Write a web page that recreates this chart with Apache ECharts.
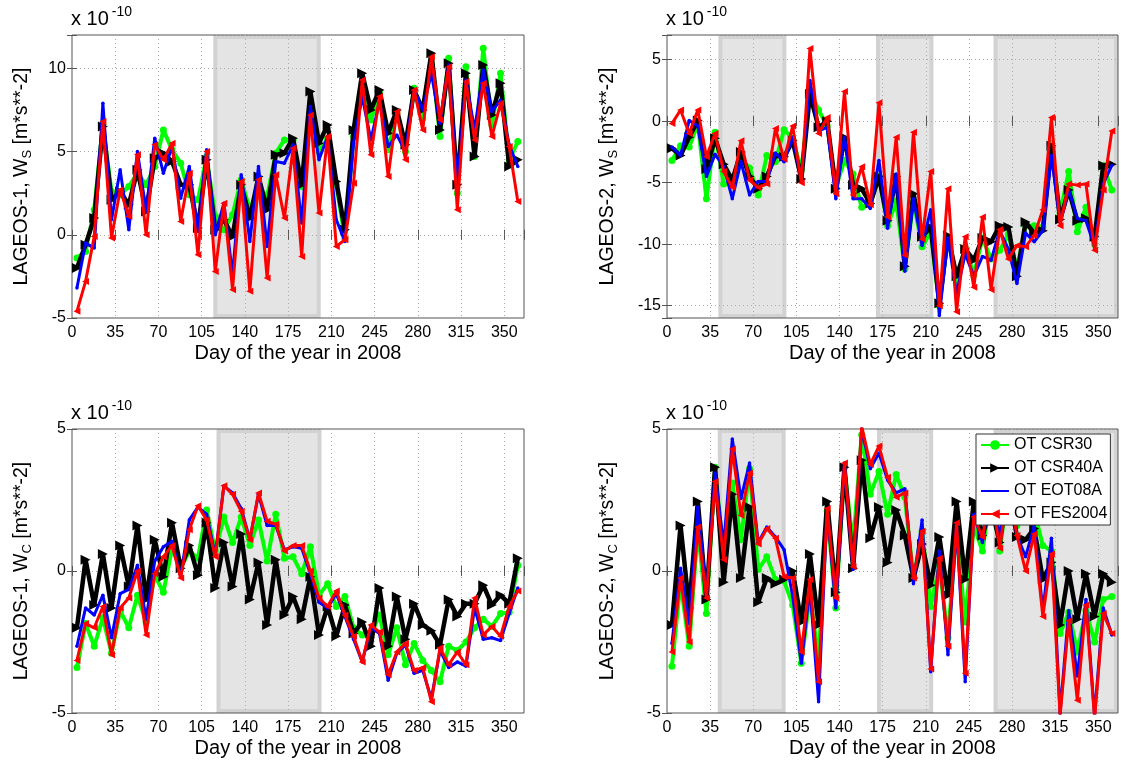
<!DOCTYPE html>
<html>
<head>
<meta charset="utf-8">
<title>LAGEOS out-of-plane accelerations 2008</title>
<script src="https://cdn.jsdelivr.net/npm/echarts@6/dist/echarts.min.js"></script>
<style>
  html, body { margin: 0; padding: 0; background: #fff; }
  #chart { width: 1121px; height: 765px; }
</style>
</head>
<body>
<div id="chart"></div>
<script>
// weekly arcs, day of year 2008
const days = [4, 11, 18, 25, 32, 39, 46, 53, 60, 67, 74, 81, 88, 95, 102, 109, 116, 123, 130, 137,
  144, 151, 158, 165, 172, 179, 186, 193, 200, 207, 214, 221, 228, 235, 242, 249, 256, 263, 270, 277,
  284, 291, 298, 305, 312, 319, 326, 333, 340, 347, 354, 361]

const seriesNames = ['OT CSR30', 'OT CSR40A', 'OT EOT08A', 'OT FES2004']

// LAGEOS-1, W_S  (x 1e-10 m/s^2)
const ws1Csr30 = [-1.4, -1.0, 1.5, 6.6, 2.6, 2.4, 2.9, 3.7, 3.0, 4.1, 6.3, 5.1, 4.3, 2.4, 2.1, 4.7, 1.1, 0.3, 1.2, 3.3,
  1.5, 2.9, 2.3, 4.9, 5.7, 5.7, 2.9, 7.5, 5.0, 5.8, 3.0, -0.2, 5.9, 8.5, 6.9, 8.5, 5.1, 7.3, 5.0, 8.8,
  7.0, 10.8, 5.9, 10.6, 2.5, 10.1, 4.7, 11.2, 6.6, 9.7, 4.5, 5.6]
const ws1Csr40a = [-2.0, -0.6, 1.0, 6.5, 2.1, 2.6, 1.8, 3.9, 1.4, 4.6, 4.9, 4.4, 3.0, 3.0, 0.4, 4.5, 0.3, 0.9, -0.1, 3.0,
  1.0, 3.5, 1.5, 4.8, 4.9, 5.8, 3.0, 8.6, 5.5, 6.6, 3.2, 0.3, 6.3, 9.7, 7.5, 8.7, 6.1, 7.5, 5.4, 8.7,
  7.5, 10.9, 6.3, 10.3, 3.0, 9.7, 4.7, 10.2, 7.2, 9.1, 4.1, 4.5]
const ws1Eot08a = [-3.2, -0.5, -0.8, 7.9, 0.9, 3.9, 0.3, 5.0, 1.4, 5.8, 3.7, 5.3, 2.2, 4.1, 0.2, 5.1, 0.0, 1.9, -2.4, 3.6,
  -0.4, 4.1, -0.7, 4.4, 4.3, 5.4, 0.7, 7.7, 4.5, 5.9, 0.9, -0.4, 5.5, 8.3, 5.7, 8.0, 5.3, 6.0, 5.0, 8.7,
  7.5, 9.7, 6.7, 10.2, 2.9, 9.3, 6.3, 9.9, 7.4, 8.1, 5.4, 4.1]
const ws1Fes2004 = [-4.6, -2.8, -0.1, 6.8, -0.2, 2.7, 1.1, 4.8, 0.0, 5.4, 4.5, 5.5, 0.8, 3.7, -1.2, 5.0, -2.2, 1.9, -3.3, 3.2,
  -3.4, 3.3, -2.6, 3.6, 1.0, 5.2, -1.3, 7.2, 1.3, 5.9, -0.7, -0.3, 3.1, 9.3, 4.8, 8.3, 3.5, 7.4, 4.5, 8.7,
  6.3, 10.7, 6.9, 10.1, 1.5, 9.2, 5.7, 9.1, 5.9, 7.9, 5.3, 2.0]

// LAGEOS-2, W_S
const ws2Csr30 = [-3.2, -2.0, -2.1, -0.2, -6.3, -0.9, -5.1, -5.1, -3.1, -3.8, -6.0, -2.8, -3.3, -0.7, -1.4, -4.0, 2.5, 0.9, -0.4, -5.4,
  -3.2, -4.3, -7.0, -6.7, -4.5, -8.5, -6.5, -12.0, -6.5, -10.2, -9.0, -15.0, -9.5, -13.0, -10.3, -12.5, -9.5, -11.2, -10.5, -9.2,
  -12.0, -8.5, -8.5, -8.6, -1.8, -7.5, -4.1, -9.0, -7.0, -10.0, -3.6, -5.6]
const ws2Csr40a = [-2.2, -2.8, -1.3, 0.05, -3.9, -1.4, -3.5, -4.8, -2.5, -4.5, -5.5, -4.5, -2.8, -2.9, -1.6, -4.7, 2.2, -0.5, 0.0, -5.5,
  -1.3, -5.2, -5.5, -6.7, -4.5, -8.1, -4.5, -11.8, -5.9, -9.4, -8.6, -14.8, -9.3, -12.6, -10.4, -11.3, -9.5, -9.8, -8.5, -8.6,
  -12.6, -8.2, -9.1, -8.9, -2.0, -8.0, -5.6, -8.1, -7.9, -9.4, -3.6, -3.5]
const ws2Eot08a = [-2.1, -2.8, 0.05, -0.4, -4.5, -2.7, -3.7, -6.3, -3.3, -6.0, -4.9, -4.9, -2.6, -3.3, -1.3, -4.7, 3.3, -0.8, -0.5, -6.3,
  -1.3, -6.3, -6.3, -7.1, -3.2, -8.7, -4.3, -12.2, -6.3, -10.1, -7.2, -15.8, -9.5, -14.0, -10.8, -12.6, -11.0, -11.3, -8.9, -10.4,
  -13.2, -9.1, -9.8, -8.9, -2.8, -8.2, -5.6, -7.9, -8.1, -10.2, -5.1, -3.6]
const ws2Fes2004 = [-0.2, 0.9, -1.0, 0.9, -2.9, -1.0, -4.1, -5.4, -1.6, -4.8, -5.4, -5.1, -0.6, -3.1, -0.4, -5.0, 5.9, -1.0, 0.3, -5.9,
  2.4, -6.0, -3.7, -6.8, 1.5, -7.8, -1.3, -10.9, -0.9, -9.6, -4.1, -15.0, -5.5, -15.5, -9.4, -13.5, -7.8, -13.7, -8.8, -11.2,
  -10.1, -10.2, -9.3, -7.2, 0.3, -8.5, -5.1, -5.2, -5.1, -10.5, -5.6, -0.8]

// LAGEOS-1, W_C
const wc1Csr30 = [-3.4, -1.85, -2.65, -1.65, -2.9, -1.4, -2.0, -0.85, -1.8, -0.15, -0.75, 0.8, 0.1, 0.7, 0.45, 2.15, 0.7, 1.9, 1.0, 1.9,
  0.9, 1.8, 0.35, 2.0, 0.45, 0.5, -0.1, 0.85, -0.85, -0.45, -1.25, -0.9, -2.0, -2.25, -2.25, -1.55, -2.95, -2.0, -3.3, -2.55,
  -3.15, -3.5, -3.9, -2.65, -2.8, -2.5, -2.0, -1.7, -1.95, -1.5, -1.45, 0.2]
const wc1Csr40a = [-2.0, 0.4, -1.2, 0.6, -1.3, 0.9, -0.55, 1.6, -1.0, 1.1, -0.2, 1.7, 0.1, 0.9, -0.15, 1.7, -0.6, 1.0, -0.55, 1.3,
  -1.0, 0.3, -1.9, 0.4, -1.55, -0.9, -1.7, -0.2, -2.25, -1.25, -2.3, -1.2, -2.2, -1.8, -2.65, -0.6, -2.65, -0.9, -2.4, -1.15,
  -1.9, -2.1, -2.6, -1.0, -1.6, -1.15, -1.15, -0.5, -1.2, -0.85, -1.15, 0.45]
const wc1Eot08a = [-2.65, -1.3, -1.55, -0.85, -2.35, -0.8, -0.65, 0.2, -1.7, 0.35, 0.85, 1.05, -0.2, 1.8, 2.25, 2.0, 0.55, 3.0, 2.75, 2.2,
  1.1, 2.7, 1.6, 1.6, 0.75, 0.85, 0.8, -0.1, -1.1, -1.3, -0.8, -1.6, -2.4, -3.2, -2.0, -2.2, -3.85, -2.9, -2.6, -3.6,
  -3.5, -4.5, -2.8, -3.4, -3.2, -3.35, -1.3, -2.4, -2.35, -2.45, -1.5, -0.6]
const wc1Fes2004 = [-3.15, -1.85, -2.0, -1.25, -2.95, -1.3, -0.95, 0.0, -2.25, -0.1, 0.5, 0.9, -0.25, 1.45, 2.3, 1.8, 0.5, 3.0, 2.7, 2.1,
  1.1, 2.75, 1.75, 1.65, 0.7, 0.9, 0.9, 0.0, -0.95, -1.25, -0.7, -1.55, -2.3, -3.2, -1.9, -2.15, -3.65, -2.85, -2.55, -3.5,
  -3.4, -4.6, -2.7, -3.3, -2.85, -3.3, -0.95, -2.25, -1.95, -2.3, -1.25, -0.7]

// LAGEOS-2, W_C
const wc2Csr30 = [-3.35, -0.4, -2.65, 1.5, -1.5, 3.65, 0.45, 3.1, 1.1, 3.6, 0.05, 0.5, -0.3, -0.35, -1.2, -3.25, -0.85, -3.1, 2.1, -1.3,
  3.65, 0.9, 4.8, 2.7, 3.5, 2.0, 3.4, 2.6, -0.25, 1.4, -1.25, 0.2, -2.35, 1.5, -1.8, 1.6, 0.7, 2.8, 0.7, 3.0,
  1.6, 2.2, 2.1, 0.9, 0.7, -2.2, -1.45, -2.85, -1.4, -2.5, -1.0, -0.9]
const wc2Csr40a = [-1.9, 1.6, -1.3, 2.45, -1.0, 3.65, -0.4, 2.7, -0.25, 2.25, -1.1, -0.25, -0.45, -0.3, 0.0, -1.8, 0.6, -1.9, 2.45, -0.75,
  3.65, 0.1, 3.9, 1.15, 2.25, 0.3, 2.15, 1.25, -0.25, 0.95, -0.5, 1.2, -0.85, 2.45, -0.3, 2.45, 1.25, 2.3, 1.0, 3.0,
  1.2, 1.1, 1.5, -0.3, 0.3, -1.9, 0.0, -1.7, -0.1, -1.6, -0.1, -0.4]
const wc2Eot08a = [-2.55, 0.1, -1.85, 2.25, -0.85, 3.45, 0.9, 4.65, 2.55, 3.8, 1.0, 1.55, 1.2, 0.75, -0.9, -3.25, -0.6, -4.6, 2.2, -1.3,
  3.8, 0.05, 5.0, 3.6, 4.15, 3.2, 2.75, 2.9, -0.45, 1.8, -3.55, 0.7, -2.95, 1.6, -3.9, 2.0, 1.0, 3.0, 1.2, 3.2,
  1.25, 0.5, 1.6, -1.4, 1.15, -5.0, -1.4, -3.7, -1.0, -5.1, -1.3, -2.25]
const wc2Fes2004 = [-2.85, -0.25, -2.5, 1.55, -0.95, 3.15, 0.4, 4.3, 1.95, 3.45, 0.95, 1.5, 1.15, -0.2, -0.25, -2.85, -0.3, -3.9, 2.2, -0.95,
  3.8, 0.15, 5.1, 3.75, 4.4, 3.3, 2.6, 2.75, -0.25, 1.4, -3.45, 0.45, -2.65, 1.7, -3.6, 1.9, 1.2, 2.8, 0.8, 3.0,
  1.25, 0.0, 1.3, -1.6, 0.6, -5.1, -1.75, -4.55, -1.2, -5.2, -1.5, -2.2]

// shaded periods [start day, end day]
const shadeWs1 = [[114.4, 201.4]]
const shadeWs2 = [[41.7, 96.9], [169.6, 216.2], [265, 366]]
const shadeWc1 = [[117, 202]]
const shadeWc2 = [[41.2, 96.3], [170.4, 216], [265, 366]]

const FONT = 'Liberation Sans'

const panels = [
  { data: [ws1Csr30, ws1Csr40a, ws1Eot08a, ws1Fes2004], shade: shadeWs1, sat: '1', comp: 'S',
    left: 72, top: 35, width: 452, height: 283, yMin: -5, yMax: 12, nameGap: 38 },
  { data: [ws2Csr30, ws2Csr40a, ws2Eot08a, ws2Fes2004], shade: shadeWs2, sat: '2', comp: 'S',
    left: 667, top: 35, width: 451, height: 283, yMin: -16, yMax: 7, nameGap: 47 },
  { data: [wc1Csr30, wc1Csr40a, wc1Eot08a, wc1Fes2004], shade: shadeWc1, sat: '1', comp: 'C',
    left: 72, top: 429, width: 452, height: 284, yMin: -5, yMax: 5, nameGap: 38 },
  { data: [wc2Csr30, wc2Csr40a, wc2Eot08a, wc2Fes2004], shade: shadeWc2, sat: '2', comp: 'C',
    left: 667, top: 429, width: 451, height: 284, yMin: -5, yMax: 5, nameGap: 47 }
]

const looks = [
  { color: '#00ff00', width: 4, symbol: 'circle', size: 7, rotate: 0 },
  { color: '#000000', width: 4.5, symbol: 'triangle', size: 10, rotate: -90 },
  { color: '#0000ff', width: 3, symbol: 'circle', size: 3.5, rotate: 0 },
  { color: '#ff0000', width: 3, symbol: 'triangle', size: 7, rotate: 90 }
]

function renderShade (params, api) {
  const a = api.coord([api.value(0), 0])
  const b = api.coord([api.value(1), 0])
  const cs = params.coordSys
  return {
    type: 'rect',
    shape: { x: a[0] + 2, y: cs.y + 2, width: b[0] - a[0] - 4, height: cs.height - 4 },
    style: { fill: '#e4e4e4', stroke: '#d2d2d2', lineWidth: 4 }
  }
}

const grid = []
const xAxis = []
const yAxis = []
const series = []
const title = []

panels.forEach((p, k) => {
  grid.push({ left: p.left, top: p.top, width: p.width, height: p.height,
    show: true, borderColor: '#555', borderWidth: 1, backgroundColor: 'transparent' })

  const tick = { show: true, inside: true, length: 5, lineStyle: { color: '#555' } }
  xAxis.push({
    type: 'value', gridIndex: k, min: 0, max: 366, interval: 35,
    name: 'Day of the year in 2008', nameLocation: 'middle', nameGap: 25,
    nameTextStyle: { fontFamily: FONT, fontSize: 20, color: '#000' },
    axisLine: { show: false }, axisTick: tick,
    axisLabel: { fontFamily: FONT, fontSize: 16, color: '#000', margin: 7,
      formatter: v => (v % 35 === 0 ? String(v) : '') },
    splitLine: { show: true, lineStyle: { color: '#aaa', type: [1, 3], width: 1 } }
  })
  xAxis.push({
    type: 'value', gridIndex: k, position: 'top', min: 0, max: 366, interval: 35,
    axisLine: { show: false }, axisTick: tick, axisLabel: { show: false }, splitLine: { show: false }
  })

  const yScale = p.yMin % 5 === 0 ? { interval: 5 } : { splitNumber: 5 }
  yAxis.push(Object.assign({
    type: 'value', gridIndex: k, min: p.yMin, max: p.yMax,
    name: '{n|LAGEOS-' + p.sat + ', W}{s|' + p.comp + '}{n| [m*s**-2]}',
    nameLocation: 'middle', nameGap: p.nameGap,
    nameTextStyle: { rich: {
      n: { fontFamily: FONT, fontSize: 19.5, color: '#000', lineHeight: 24 },
      s: { fontFamily: FONT, fontSize: 13, color: '#000', lineHeight: 12, verticalAlign: 'bottom' }
    } },
    axisLine: { show: false }, axisTick: tick,
    axisLabel: { fontFamily: FONT, fontSize: 16, color: '#000', margin: 6,
      formatter: v => (v % 5 === 0 ? String(v) : '') },
    splitLine: { show: true, lineStyle: { color: '#aaa', type: [1, 3], width: 1 } }
  }, yScale))
  yAxis.push(Object.assign({
    type: 'value', gridIndex: k, position: 'right', min: p.yMin, max: p.yMax,
    axisLine: { show: false }, axisTick: tick, axisLabel: { show: false }, splitLine: { show: false }
  }, yScale))

  series.push({
    type: 'custom', xAxisIndex: 2 * k, yAxisIndex: 2 * k, z: -1, silent: true,
    renderItem: renderShade, encode: { x: [0, 1] }, data: p.shade
  })

  p.data.forEach((vals, j) => {
    const s = looks[j]
    series.push({
      type: 'line', name: seriesNames[j], xAxisIndex: 2 * k, yAxisIndex: 2 * k,
      data: days.map((d, i) => [d, vals[i]]),
      symbol: s.symbol, symbolSize: s.size, symbolRotate: s.rotate, showAllSymbol: true,
      lineStyle: { color: s.color, width: s.width },
      itemStyle: { color: s.color, borderWidth: 0 },
      z: 2 + j * 0.1
    })
  })

  title.push({
    text: '{a|x 10}{b|-10}', left: p.left - 1, top: p.top - 30, padding: 0,
    textStyle: { fontWeight: 'normal', rich: {
      a: { fontFamily: FONT, fontSize: 20, fontWeight: 'normal', color: '#000', lineHeight: 24, verticalAlign: 'bottom' },
      b: { fontFamily: FONT, fontSize: 14, fontWeight: 'normal', color: '#000', lineHeight: 14, verticalAlign: 'top', padding: [0, 0, 0, 3] }
    } }
  })
})

const chart = echarts.init(document.getElementById('chart'))
chart.setOption({
  animation: false,
  backgroundColor: '#fff',
  title,
  legend: {
    data: [
      { name: seriesNames[0] },
      { name: seriesNames[1] },
      { name: seriesNames[2], itemStyle: { color: 'rgba(0,0,255,0)' } },
      { name: seriesNames[3] }
    ],
    orient: 'vertical', left: 976, top: 434,
    backgroundColor: '#fff', borderColor: '#333', borderWidth: 1, borderRadius: 0,
    padding: [3, 3, 3, 4], itemWidth: 28, itemHeight: 12, itemGap: 7, selectedMode: false,
    textStyle: { fontFamily: FONT, fontSize: 16, color: '#000' }
  },
  grid,
  xAxis,
  yAxis,
  series
})
</script>
</body>
</html>
